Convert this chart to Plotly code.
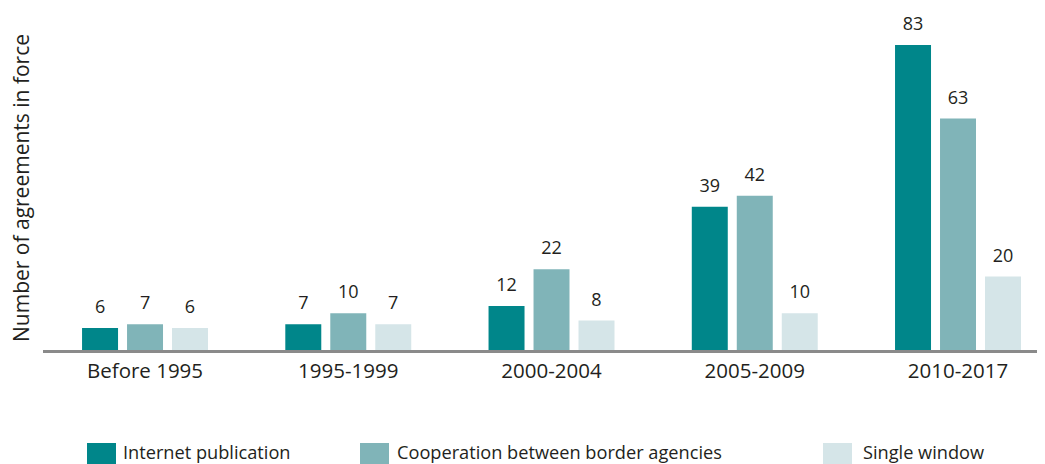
import plotly.graph_objects as go

categories = ["Before 1995", "1995-1999", "2000-2004", "2005-2009", "2010-2017"]
series_names = ["Internet publication", "Cooperation between border agencies", "Single window"]
internet_publication = [6, 7, 12, 39, 83]
border_cooperation = [7, 10, 22, 42, 63]
single_window = [6, 7, 8, 10, 20]
colors = ["#00868A", "#80B4B8", "#D5E5E8"]
y_title = "Number of agreements in force"

FONT = "Open Sans"
TXT = "#231F20"
OFF = 8  # page body margin
W, H = 1045 - OFF, 464 - OFF
ML, MR, MT, MB = 43 - OFF, 0, 2, 114
PW = W - ML - MR
PH = H - MT - MB
GAP = 0.336

all_vals = [internet_publication, border_cooperation, single_window]

fig = go.Figure()
for i, (name, vals, col) in enumerate(zip(series_names, all_vals, colors)):
    fig.add_trace(go.Bar(
        x=categories, y=vals, name=name, marker=dict(color=col, line=dict(width=0)),
        offsetgroup=str(i), alignmentgroup="g",
        showlegend=False, hoverinfo="x+y+name",
    ))
for i, (name, vals) in enumerate(zip(series_names, all_vals)):
    fig.add_trace(go.Scatter(
        x=categories, y=vals, name=name, mode="markers+text", text=vals,
        textposition="top center", offsetgroup=str(i), alignmentgroup="g",
        marker=dict(size=15, color="rgba(0,0,0,0)"),
        textfont=dict(family=FONT, size=18, color=TXT), cliponaxis=False,
        showlegend=False, hoverinfo="skip",
    ))

def px_x(px):
    return (px - OFF - ML) / PW

def px_y(py):
    return (H - MB - (py - OFF)) / PH

shapes = []
annotations = []
legend_sq_x = [87, 360, 823]
legend_txt_x = [121, 395, 861]
for name, col, sx, tx in zip(series_names, colors, legend_sq_x, legend_txt_x):
    shapes.append(dict(type="rect", xref="paper", yref="paper",
                       x0=px_x(sx), x1=px_x(sx + 29), y0=px_y(443), y1=px_y(470),
                       fillcolor=col, line=dict(width=0), layer="above"))
    annotations.append(dict(text=name, xref="paper", yref="paper", x=px_x(tx), y=px_y(452),
                            xanchor="left", yanchor="middle", showarrow=False,
                            font=dict(family=FONT, size=18.2, color=TXT)))

annotations.append(dict(text=y_title, xref="paper", yref="paper", x=px_x(21), y=px_y(188),
                        xanchor="center", yanchor="middle", textangle=-90, showarrow=False,
                        font=dict(family=FONT, size=21, color=TXT)))

fig.update_layout(
    width=W, height=H,
    margin=dict(l=ML, r=MR, t=MT, b=MB, autoexpand=False),
    paper_bgcolor="white", plot_bgcolor="white",
    barmode="group", bargap=GAP, bargroupgap=0.2,
    scattermode="group", scattergap=GAP,
    font=dict(family=FONT, color=TXT),
    shapes=shapes, annotations=annotations,
    xaxis=dict(range=[-0.502, 4.428], showline=True, linecolor="#8A8A8A", linewidth=3,
               showgrid=False, zeroline=False, ticks="", tickfont=dict(family=FONT, size=20.5, color=TXT)),
    yaxis=dict(range=[0, (342 - 10 + OFF) / 3.675], visible=False, showgrid=False, zeroline=False),
)

fig.write_html("out.html")
